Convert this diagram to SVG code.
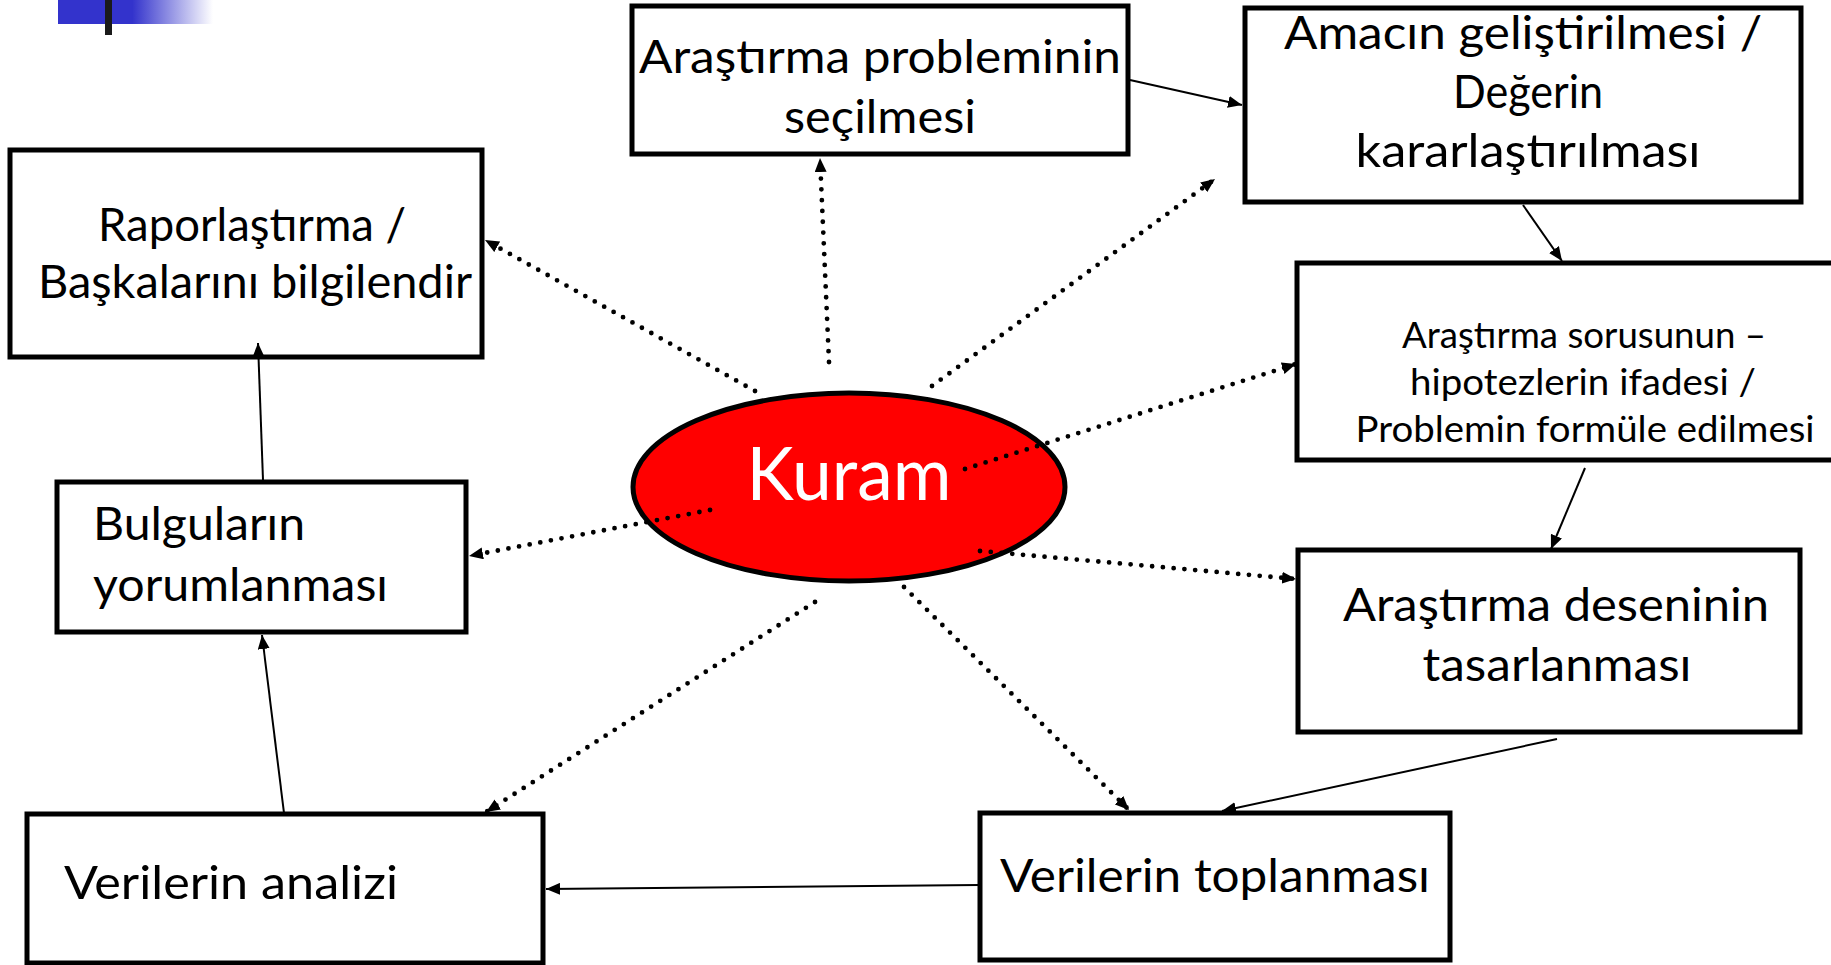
<svg xmlns="http://www.w3.org/2000/svg" width="1831" height="965" viewBox="0 0 1831 965">
<style>
.box{fill:#fff;stroke:#000;stroke-width:5}
.t{font-family:Lato,"Open Sans","DejaVu Sans",sans-serif;font-size:46px;fill:#000}
.ts{font-family:Lato,"Open Sans","DejaVu Sans",sans-serif;font-size:36px;fill:#000}
.solid{stroke:#000;stroke-width:2;fill:none;marker-end:url(#ah)}
.dot{stroke:#000;stroke-width:4.8;fill:none;stroke-dasharray:0 10.8;stroke-linecap:round;marker-end:url(#ah)}
</style>
<defs>
<linearGradient id="bg" x1="0" y1="0" x2="1" y2="0">
<stop offset="0" stop-color="#3333cc"/>
<stop offset="0.48" stop-color="#3333cc"/>
<stop offset="1" stop-color="#3333cc" stop-opacity="0"/>
</linearGradient>
<marker id="ah" markerUnits="userSpaceOnUse" markerWidth="14" markerHeight="12" refX="14" refY="6" orient="auto">
<path d="M0,0 L14,6 L0,12 z" fill="#000"/>
</marker>
</defs>
<rect width="1831" height="965" fill="#fff"/>
<rect x="58" y="0" width="155" height="24" fill="url(#bg)"/>
<rect x="105" y="0" width="7" height="35" fill="#1a1a1a"/>

<g id="kuram">
<ellipse cx="849" cy="487" rx="216" ry="94" fill="#ff0000" stroke="#000" stroke-width="5"/>
<text x="849" y="500" text-anchor="middle" textLength="205" lengthAdjust="spacingAndGlyphs" style="font-family:Lato,'Open Sans','DejaVu Sans',sans-serif;font-size:74px;fill:#fff">Kuram</text>
</g>

<g id="n-secim">
<rect class="box" x="632" y="6" width="496" height="148"/>
<text class="t" x="880" y="73" text-anchor="middle" textLength="482" lengthAdjust="spacingAndGlyphs">Araştırma probleminin</text>
<text class="t" x="880" y="133" text-anchor="middle" textLength="192" lengthAdjust="spacingAndGlyphs">seçilmesi</text>
</g>

<g id="n-amac">
<rect class="box" x="1245" y="8" width="556" height="194"/>
<text class="t" x="1523" y="49" text-anchor="middle" textLength="478" lengthAdjust="spacingAndGlyphs">Amacın geliştirilmesi /</text>
<text class="t" x="1528" y="108" text-anchor="middle" textLength="150" lengthAdjust="spacingAndGlyphs">Değerin</text>
<text class="t" x="1528" y="167" text-anchor="middle" textLength="345" lengthAdjust="spacingAndGlyphs">kararlaştırılması</text>
</g>

<g id="n-rapor">
<rect class="box" x="10" y="150" width="472" height="207"/>
<text class="t" x="252" y="241" text-anchor="middle" textLength="308" lengthAdjust="spacingAndGlyphs">Raporlaştırma /</text>
<text class="t" x="255" y="298" text-anchor="middle" textLength="434" lengthAdjust="spacingAndGlyphs">Başkalarını bilgilendir</text>
</g>

<g id="n-soru">
<rect class="box" x="1297" y="263" width="545" height="197"/>
<text class="ts" x="1584" y="348" text-anchor="middle" textLength="364" lengthAdjust="spacingAndGlyphs">Araştırma sorusunun –</text>
<text class="ts" x="1583" y="395" text-anchor="middle" textLength="346" lengthAdjust="spacingAndGlyphs">hipotezlerin ifadesi /</text>
<text class="ts" x="1585" y="442" text-anchor="middle" textLength="459" lengthAdjust="spacingAndGlyphs">Problemin formüle edilmesi</text>
</g>

<g id="n-desen">
<rect class="box" x="1298" y="550" width="502" height="182"/>
<text class="t" x="1556" y="621" text-anchor="middle" textLength="426" lengthAdjust="spacingAndGlyphs">Araştırma deseninin</text>
<text class="t" x="1557" y="681" text-anchor="middle" textLength="269" lengthAdjust="spacingAndGlyphs">tasarlanması</text>
</g>

<g id="n-toplama">
<rect class="box" x="980" y="813" width="470" height="147"/>
<text class="t" x="1000" y="892" textLength="430" lengthAdjust="spacingAndGlyphs">Verilerin toplanması</text>
</g>

<g id="n-analiz">
<rect class="box" x="27" y="814" width="516" height="149"/>
<text class="t" x="64" y="899" textLength="334" lengthAdjust="spacingAndGlyphs">Verilerin analizi</text>
</g>

<g id="n-bulgu">
<rect class="box" x="57" y="482" width="409" height="150"/>
<text class="t" x="93" y="540" textLength="212" lengthAdjust="spacingAndGlyphs">Bulguların</text>
<text class="t" x="93" y="601" textLength="295" lengthAdjust="spacingAndGlyphs">yorumlanması</text>
</g>

<g id="connectors">
<line class="solid" x1="1130" y1="80" x2="1242" y2="105"/>
<line class="solid" x1="1523" y1="205" x2="1562" y2="261"/>
<line class="solid" x1="1585" y1="468" x2="1551" y2="549"/>
<line class="solid" x1="1557" y1="739" x2="1222" y2="811"/>
<line class="solid" x1="979" y1="885" x2="546" y2="889"/>
<line class="solid" x1="284" y1="813" x2="262" y2="635"/>
<line class="solid" x1="263" y1="480" x2="258" y2="343"/>
<line class="dot" x1="829" y1="362" x2="820" y2="158"/>
<line class="dot" x1="755" y1="391" x2="485" y2="240"/>
<line class="dot" x1="932" y1="386" x2="1215" y2="179"/>
<line class="dot" x1="965" y1="469" x2="1296" y2="364"/>
<line class="dot" x1="980" y1="551" x2="1296" y2="579"/>
<line class="dot" x1="710" y1="510" x2="469" y2="556"/>
<line class="dot" x1="815" y1="602" x2="486" y2="812"/>
<line class="dot" x1="904" y1="587" x2="1129" y2="810"/>
</g>
</svg>
